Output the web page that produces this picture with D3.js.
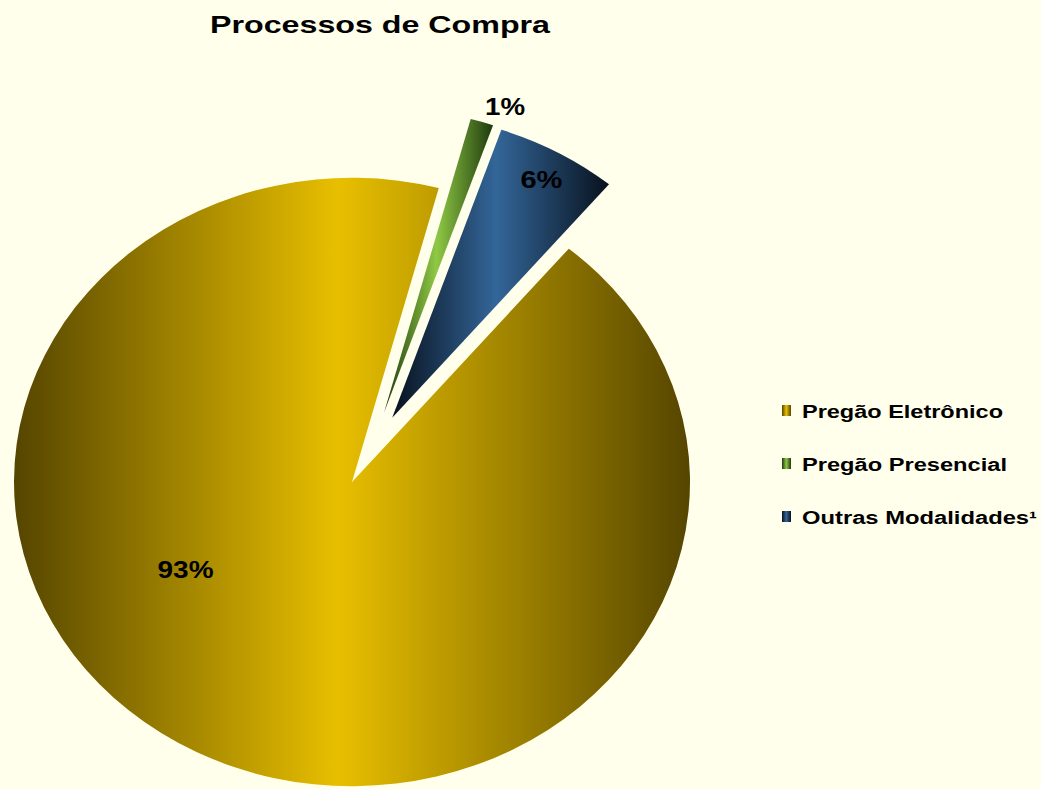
<!DOCTYPE html>
<html lang="pt">
  <head>
    <meta charset="utf-8">
    <title>Processos de Compra</title>
    <script src="https://d3js.org/d3.v7.js"></script>
    <style>
      body { margin: 0; background: #ffffec; }
      text { font-family: "Liberation Sans", Arial, sans-serif; font-weight: bold; fill: #000; }
    </style>
  </head>
  <body>
    <script>
    // data
    var categories = ["Pregão Eletrônico", "Pregão Presencial", "Outras Modalidades¹"];
    var values = [93.05, 1.1, 5.85];
    var labels = ["93%", "1%", "6%"];

    var w = 1041;
    var h = 789;

    // pie geometry
    var cx = 352, cy = 482;
    var R = 338;
    var squash = 0.9;
    var start = 39.9 * Math.PI / 180;

    // explosion per slice (distance, direction in degrees; null = slice middle)
    var explodeDist = [0, 83, 82];
    var explodeDir = [null, 22.6, null];

    // label placement (angle in degrees, null = slice middle; radius as fraction of R)
    var labelAngle = [239.6, 19.6, null];
    var labelRadius = [0.571, 1.068, 0.90];
    var labelWidth = [56, 40, 42];

    var bright = ["#e8bf00", "#8fc944", "#336699"];
    var dark = ["#554500", "#1e3a0e", "#08111d"];

    var svg = d3.select("body")
      .append("svg")
      .attr("width", w)
      .attr("height", h);

    svg.append("rect")
      .attr("width", w)
      .attr("height", h)
      .attr("fill", "#ffffec");

    var defs = svg.append("defs");
    categories.forEach(function (c, i) {
      var g = defs.append("linearGradient")
        .attr("id", "grad" + i)
        .attr("x1", 0).attr("x2", 1).attr("y1", 0).attr("y2", 0);
      g.append("stop").attr("offset", "0%").attr("stop-color", dark[i]);
      g.append("stop").attr("offset", "48%").attr("stop-color", bright[i]);
      g.append("stop").attr("offset", "100%").attr("stop-color", dark[i]);
    });

    var pie = d3.pie()
      .sort(null)
      .value(d => d)
      .startAngle(start)
      .endAngle(start + 2 * Math.PI);

    var arcs = pie(values);

    var arc = d3.arc()
      .innerRadius(0)
      .outerRadius(R);

    function offset(d, i) {
      if (!explodeDist[i]) return [0, 0];
      var m = explodeDir[i] === null ? (d.startAngle + d.endAngle) / 2 : explodeDir[i] * Math.PI / 180;
      return [explodeDist[i] * Math.sin(m), -explodeDist[i] * Math.cos(m)];
    }

    var pieG = svg.append("g")
      .attr("transform", "translate(" + cx + "," + cy + ") scale(1," + squash + ")");

    pieG.selectAll("path")
      .data(arcs)
      .enter()
      .append("path")
      .attr("d", arc)
      .attr("transform", function (d, i) {
        var o = offset(d, i);
        return "translate(" + o[0] + "," + o[1] + ")";
      })
      .attr("fill", (d, i) => "url(#grad" + i + ")");

    // percentage labels
    function labelPos(d, i) {
      var o = offset(d, i);
      var a = labelAngle[i] === null ? (d.startAngle + d.endAngle) / 2 : labelAngle[i] * Math.PI / 180;
      return [cx + o[0] + labelRadius[i] * R * Math.sin(a),
              cy + squash * (o[1] - labelRadius[i] * R * Math.cos(a))];
    }

    svg.selectAll("text.lbl")
      .data(arcs)
      .enter()
      .append("text")
      .attr("class", "lbl")
      .attr("font-size", 24)
      .attr("text-anchor", "middle")
      .attr("dominant-baseline", "central")
      .attr("textLength", (d, i) => labelWidth[i])
      .attr("lengthAdjust", "spacingAndGlyphs")
      .attr("x", (d, i) => labelPos(d, i)[0])
      .attr("y", (d, i) => labelPos(d, i)[1])
      .text((d, i) => labels[i]);

    // title
    svg.append("text")
      .attr("x", 380)
      .attr("y", 33)
      .attr("text-anchor", "middle")
      .attr("font-size", 24)
      .attr("textLength", 340)
      .attr("lengthAdjust", "spacingAndGlyphs")
      .text("Processos de Compra");

    // legend
    var legendWidth = [201, 205, 235];
    var legY = d3.scalePoint()
      .domain(categories)
      .range([418, 524]);

    var leg = svg.selectAll("g.leg")
      .data(categories)
      .enter()
      .append("g")
      .attr("class", "leg")
      .attr("transform", d => "translate(782," + legY(d) + ")");

    leg.append("rect")
      .attr("x", 0)
      .attr("y", -13)
      .attr("width", 9)
      .attr("height", 11)
      .attr("fill", (d, i) => "url(#grad" + i + ")");

    leg.append("text")
      .attr("x", 20)
      .attr("y", 0)
      .attr("font-size", 18)
      .attr("textLength", (d, i) => legendWidth[i])
      .attr("lengthAdjust", "spacingAndGlyphs")
      .text(d => d);
    </script>
  </body>
</html>
